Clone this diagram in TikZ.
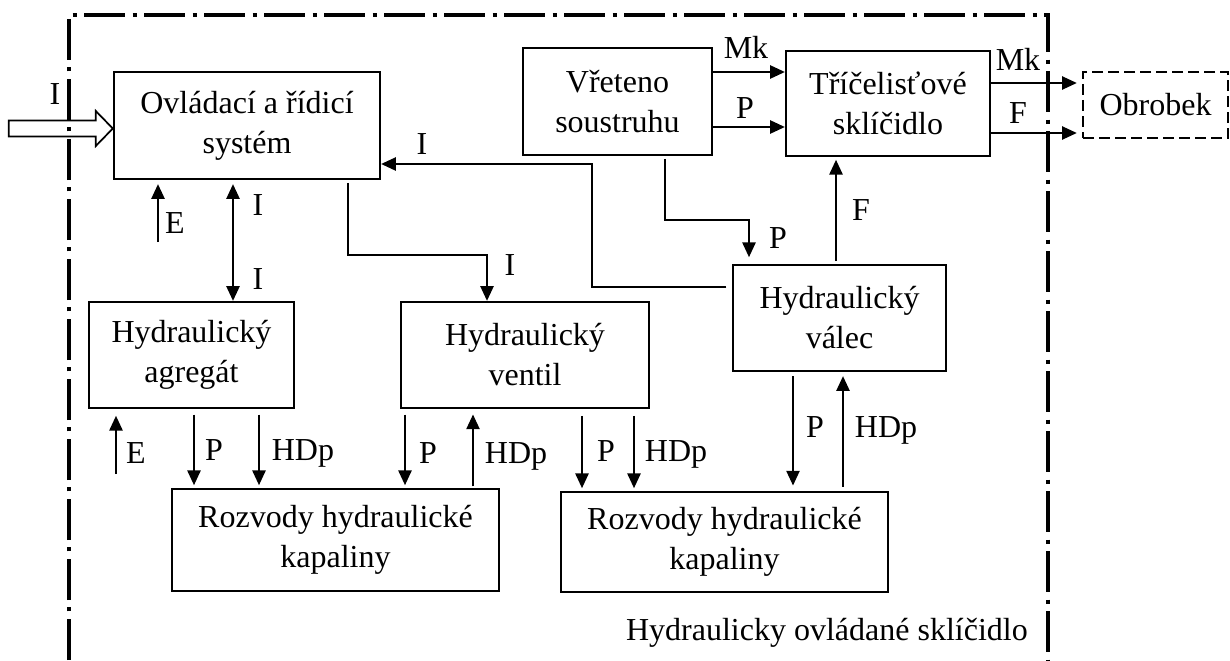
\documentclass[tikz,border=0pt]{standalone}
\usepackage{fontspec}
\setmainfont{Liberation Serif}
\usetikzlibrary{arrows.meta,calc}
\begin{document}
\begin{tikzpicture}[x=0.75pt,y=-0.75pt,
  box/.style={draw, line width=1.8pt, align=center, inner sep=0pt, font=\fontsize{24}{30}\selectfont},
  arr/.style={line width=1pt, -{Triangle[length=11pt,width=10pt]}},
  darr/.style={line width=1pt, {Triangle[length=11pt,width=10pt]}-{Triangle[length=11pt,width=10pt]}},
  lbl/.style={font=\fontsize{24}{29}\selectfont, inner sep=0pt, anchor=base},
  frameline/.style={line width=3pt, dash pattern=on 31pt off 5.5pt on 3pt off 5.5pt}]
\useasboundingbox (0,0) rectangle (1230,660);

% frame
\coordinate (fa) at (69,660);
\coordinate (fb) at (69,15);
\coordinate (fc) at (1048,15);
\coordinate (fd) at (1048,660);
\draw[frameline] (fa) -- (fb) -- (fc) -- (fd);

% boxes
\node[box, minimum width=199.5pt, minimum height=80.25pt] (ctrl) at (247,125.5) {Ovládací a řídicí\\systém};
\node[box, minimum width=141.75pt, minimum height=80.25pt] (vret) at (617.5,101.5) {Vřeteno\\soustruhu};
\node[box, minimum width=153pt, minimum height=78.75pt] (skl) at (888,103.5) {Tříčelisťové\\sklíčidlo};
\node[box, line width=1.4pt, dash pattern=on 8pt off 4pt, minimum width=108.75pt, minimum height=49.5pt] (obr) at (1155.5,105) {Obrobek};
\node[box, minimum width=153.75pt, minimum height=79.5pt] (agr) at (191.5,355) {Hydraulický\\agregát};
\node[box, minimum width=186pt, minimum height=79.5pt] (ven) at (525,355) {Hydraulický\\ventil};
\node[box, minimum width=159.75pt, minimum height=79.5pt] (val) at (839.5,318) {Hydraulický\\válec};
\node[box, minimum width=245.25pt, minimum height=76.5pt] (roz1) at (335.5,540) {Rozvody hydraulické\\kapaliny};
\node[box, minimum width=245.25pt, minimum height=75pt] (roz2) at (724.5,542) {Rozvody hydraulické\\kapaliny};

% input hollow arrow
\draw[line width=1.3pt] ([yshift=-2.25pt]ctrl.west) -- ++(-17,-17.5) -- ++(0,9.5) -- ++(-87,0) -- ++(0,16) -- ++(87,0) -- ++(0,9.5) -- cycle;
\node[lbl] (lI0) at (55,104) {I};

% E into control system
\coordinate (e1) at (158,242);
\draw[arr, shorten >=3pt] (e1) -- (e1 |- ctrl.south);
\node[lbl] (lE1) at (175,233) {E};

% I double arrow
\coordinate (xI) at (233,0);
\draw[darr, shorten <=3pt] (xI |- ctrl.south) -- (xI |- agr.north);
\node[lbl] (lI1) at (258,215) {I};
\node[lbl] (lI2) at (258,289) {I};

% control -> valve
\coordinate (xa) at (348,255);
\coordinate (xb) at (487,0);
\draw[arr, shorten <=2pt] (xa |- ctrl.south) -- (xa) -| (xb |- ven.north);
\node[lbl] (lI3) at (510,275) {I};

% cylinder -> control
\coordinate (ya) at (0,287);
\coordinate (yb) at (592,164);
\draw[arr, shorten <=4pt] (val.west |- ya) -| (yb) -- (ctrl.east |- yb);
\node[lbl] (lI4) at (422,154) {I};

% spindle -> chuck
\coordinate (yMk) at (0,72);
\coordinate (yP) at (0,127);
\draw[arr] (vret.east |- yMk) -- (skl.west |- yMk);
\draw[arr] (vret.east |- yP) -- (skl.west |- yP);
\node[lbl] (lMk1) at (746,59) {Mk};
\node[lbl] (lP1) at (745,118) {P};

% spindle -> cylinder
\coordinate (xc) at (665,220);
\coordinate (xd) at (749,0);
\draw[arr, shorten <=2pt, shorten >=5pt] (xc |- vret.south) -- (xc) -| (xd |- val.north);
\node[lbl] (lP2) at (778,248) {P};

% cylinder -> chuck
\coordinate (xF) at (836,0);
\draw[arr, shorten <=2pt, shorten >=2pt] (xF |- val.north) -- (xF |- skl.south);
\node[lbl] (lF1) at (861,220) {F};

% chuck -> workpiece
\coordinate (y1) at (0,83);
\coordinate (y2) at (0,133);
\draw[arr, shorten >=4pt] (skl.east |- y1) -- (obr.west |- y1);
\draw[arr, shorten >=4pt] (skl.east |- y2) -- (obr.west |- y2);
\node[lbl] (lMk2) at (1018,70) {Mk};
\node[lbl] (lF2) at (1018,123) {F};

% aggregate
\coordinate (e2) at (116,474);
\draw[arr, shorten >=5pt] (e2) -- (e2 |- agr.south);
\node[lbl] (lE2) at (136,463) {E};
\coordinate (x1) at (194,0);
\coordinate (x2) at (259,0);
\draw[arr, shorten <=4pt, shorten >=2pt] (x1 |- agr.south) -- (x1 |- roz1.north);
\draw[arr, shorten <=4pt, shorten >=2pt] (x2 |- agr.south) -- (x2 |- roz1.north);
\node[lbl] (lP3) at (214,460) {P};
\node[lbl] (lH1) at (303,460) {HDp};

% valve
\coordinate (x3) at (405,0);
\coordinate (x4) at (473,0);
\draw[arr, shorten <=4pt, shorten >=2pt] (x3 |- ven.south) -- (x3 |- roz1.north);
\draw[arr, shorten <=1pt, shorten >=4pt] (x4 |- roz1.north) -- (x4 |- ven.south);
\node[lbl] (lP4) at (428,463) {P};
\node[lbl] (lH2) at (516,463) {HDp};
\coordinate (x5) at (582,0);
\coordinate (x6) at (634,0);
\draw[arr, shorten <=5pt, shorten >=2pt] (x5 |- ven.south) -- (x5 |- roz2.north);
\draw[arr, shorten <=5pt, shorten >=2pt] (x6 |- ven.south) -- (x6 |- roz2.north);
\node[lbl] (lP5) at (606,461) {P};
\node[lbl] (lH3) at (676,461) {HDp};

% cylinder
\coordinate (x7) at (793,0);
\coordinate (x8) at (843,0);
\draw[arr, shorten <=3pt, shorten >=4pt] (x7 |- val.south) -- (x7 |- roz2.north);
\draw[arr, shorten <=3pt, shorten >=3pt] (x8 |- roz2.north) -- (x8 |- val.south);
\node[lbl] (lP6) at (815,437) {P};
\node[lbl] (lH4) at (886,437) {HDp};

% footer
\node[lbl, anchor=base east] (foot) at (1028,640) {Hydraulicky ovládané sklíčidlo};
\end{tikzpicture}
\end{document}
